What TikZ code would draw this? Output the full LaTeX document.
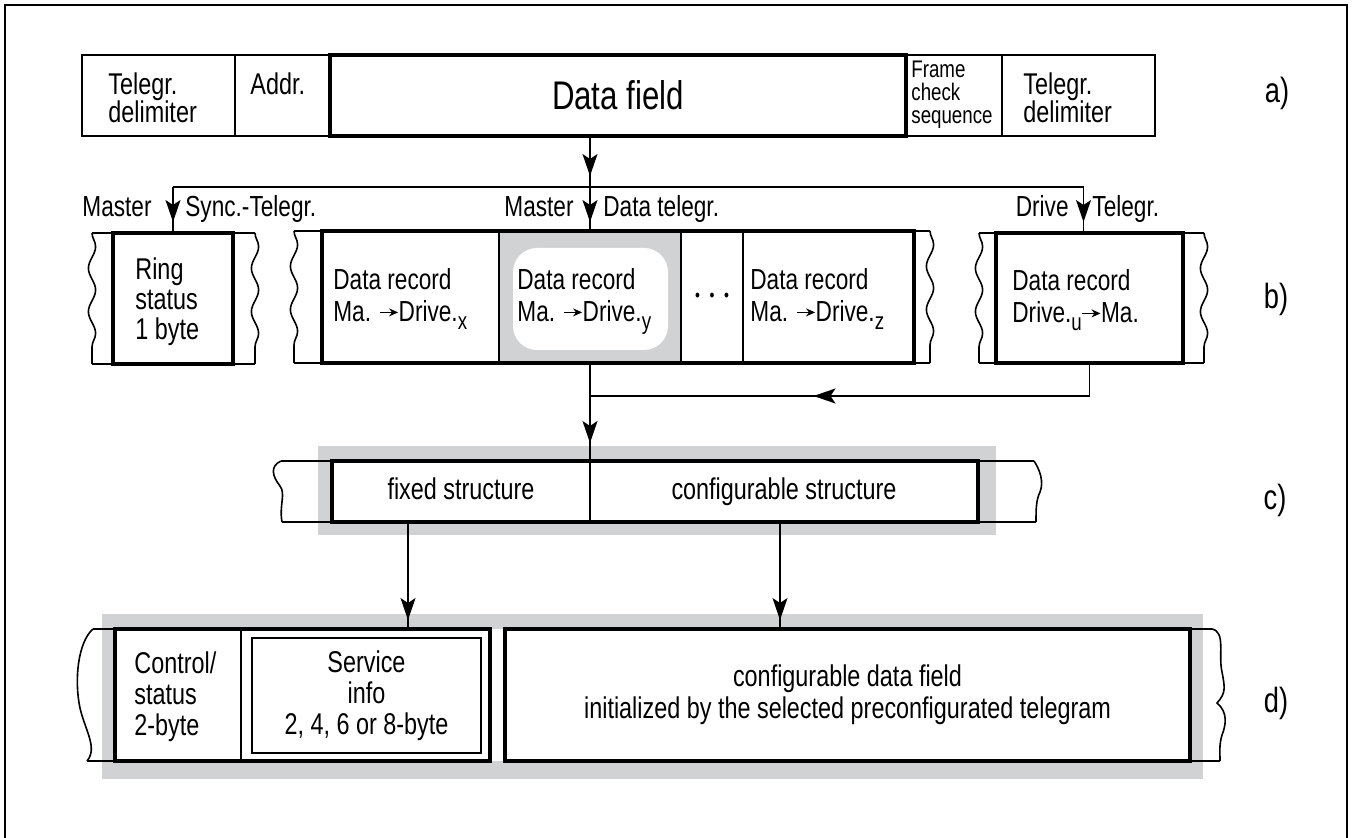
\documentclass[tikz,border=0pt]{standalone}
\usepackage{fontspec}
\setmainfont{Liberation Sans}[FakeStretch=0.78]
\usetikzlibrary{arrows.meta, positioning, decorations.pathmorphing}

\definecolor{panelgray}{RGB}{209,210,212}
\newcommand{\lowidx}[1]{\raisebox{-4pt}{\fontsize{12}{12}\selectfont #1}}
\newcommand{\toarrow}{\tikz[baseline=-4.5pt]\draw[line width=0.6pt,-{Stealth[length=4.5pt,width=4pt]}] (0,0) -- (9pt,0);}

\begin{document}
\begin{tikzpicture}[x=0.5pt, y=-0.5pt, font=\fontsize{15}{15.5}\selectfont,
  thinbox/.style={draw, line width=0.8pt, inner sep=0pt, outer sep=0pt},
  thickbox/.style={draw, line width=1.7pt, inner sep=0pt, outer sep=0pt},
  txt/.style={inner sep=0pt, anchor=north west, align=left},
  lbl/.style={inner sep=0pt, font=\fontsize{17.5}{18}\selectfont},
  tel/.style={inner sep=0pt, font=\fontsize{14.5}{14.5}\selectfont},
  arr/.style={line width=0.8pt, -{Stealth[length=11pt,width=7.5pt,inset=2.5pt]}},
  brk/.style={line width=0.8pt},
  wave/.style={brk, decorate, decoration={snake, amplitude=1.8pt, segment length=21.7pt}}]
\useasboundingbox (0,0) rectangle (1353,838);
\draw[line width=0.9pt] (5,838) -- (5,5) -- (1347,5) -- (1347,838);

% a) telegram frame
\node[thinbox, minimum width=76.5pt, minimum height=40.5pt] (delimA) at (158.5,95.5) {};
\node[thinbox, minimum width=47.5pt, minimum height=40.5pt] (addr) at (282.5,95.5) {};
\node[thinbox, minimum width=48pt, minimum height=40.5pt] (fcs) at (954,95.5) {};
\node[thinbox, minimum width=76.5pt, minimum height=40.5pt] (delimB) at (1078.5,95.5) {};
\node[thickbox, minimum width=288pt, minimum height=40.5pt, font=\fontsize{20}{20}\selectfont] (field) at (618,95.5) {Data field};
\node[txt, font=\fontsize{15}{14}\selectfont] (tdelimA) at (108,72) {Telegr.\\delimiter};
\node[txt] (taddr) at (250,72) {Addr.};
\node[txt, font=\fontsize{12}{11.5}\selectfont] (tfcs) at (911,61) {Frame\\check\\sequence};
\node[txt, font=\fontsize{15}{14}\selectfont] (tdelimB) at (1023,72) {Telegr.\\delimiter};
\node[lbl] (la) at (1277,93) {a)};

% b) telegram types
\coordinate (bus) at (590,187);
\node[thickbox, minimum width=60pt, minimum height=65.5pt] (ring) at (173,298.5) {};
\node[thinbox, minimum width=88.5pt, minimum height=66pt] (xrec) at (410.5,297) {};
\node[thinbox, fill=panelgray, minimum width=91pt, minimum height=66pt] (yrec) at (590,297) {};
\node[thinbox, minimum width=31pt, minimum height=66pt] (dots) at (712,297) {};
\node[thinbox, minimum width=85.5pt, minimum height=66pt] (zrec) at (828.5,297) {};
\draw[line width=1.7pt] (xrec.north west) rectangle (zrec.south east);
\node[fill=white, rounded corners=12pt, minimum width=77.5pt, minimum height=51pt, inner sep=0pt] (yhole) at (590.5,299) {};
\node[thickbox, minimum width=93.5pt, minimum height=65pt] (drive) at (1089.5,298) {};
\coordinate (dtop) at ([xshift=-3pt]drive.north);

\node[txt, font=\fontsize{15}{15}\selectfont] (tring) at (135,257) {Ring\\status\\1 byte};
\node[txt, font=\fontsize{14.5}{16}\selectfont] (txrec) at (333,268) {Data record\\Ma. \toarrow Drive.\lowidx{x}};
\node[txt, font=\fontsize{14.5}{16}\selectfont] (tyrec) at (517,268) {Data record\\Ma. \toarrow Drive.\lowidx{y}};
\node[txt, font=\fontsize{14.5}{16}\selectfont] (tzrec) at (750,268) {Data record\\Ma. \toarrow Drive.\lowidx{z}};
\node[txt, font=\fontsize{14.5}{16}\selectfont] (tdrive) at (1012,269) {Data record\\Drive.\lowidx{u}\toarrow Ma.};
\node[inner sep=0pt, font=\fontsize{9}{9}\selectfont] (tdots) at (dots) {\textbullet\hspace{4.8pt}\textbullet\hspace{4.8pt}\textbullet};

% break marks
\draw[brk] (92,233) -- (255,233) (92,364) -- (255,364);
\draw[wave] (92,233) -- (92,364);
\draw[wave] (255,233) -- (255,364);
\draw[brk] (294,231) -- (xrec.north west) (294,363) -- (xrec.south west);
\draw[brk] (zrec.north east) -- (930,231) (zrec.south east) -- (930,363);
\draw[wave] (294,231) -- (294,363);
\draw[wave] (930,231) -- (930,363);
\draw[brk] (979,233) -- (1204,233) (979,363) -- (1204,363);
\draw[wave] (979,233) -- (979,363);
\draw[wave] (1204,233) -- (1204,363);

% distribution to b)
\draw[brk] (ring.north |- bus) -- (dtop |- bus);
\draw[brk] (field.south -| yrec.north) -- (yrec.north);
\draw[arr] (field.south -| yrec.north) -- ++(0,40);
\draw[brk] (ring.north |- bus) -- (ring.north);
\draw[arr] (ring.north |- bus) -- ++(0,35);
\draw[arr] (bus) -- ++(0,35);
\draw[brk] (dtop |- bus) -- (dtop);
\draw[arr] (dtop |- bus) -- ++(0,35);
\node[tel, anchor=base east] (mSync) at (152,217) {Master};
\node[tel, anchor=base west] (sync) at (185,217) {Sync.-Telegr.};
\node[tel, anchor=base east] (mData) at (574,217) {Master};
\node[tel, anchor=base west] (dtel) at (603,217) {Data telegr.};
\node[tel, anchor=base east] (drv) at (1069,217) {Drive};
\node[tel, anchor=base west] (dtg) at (1092,217) {Telegr.};
\node[lbl] (lb) at (1276,299) {b)};

% c) data record
\fill[panelgray] (318,446) rectangle (996,535);
\node[thinbox, fill=white, minimum width=129pt, minimum height=30.5pt, text height=10.8pt, text depth=3pt] (fixed) at (461,491.5) {fixed structure};
\node[thinbox, fill=white, minimum width=194pt, minimum height=30.5pt, text height=10.8pt, text depth=3pt] (conf) at (784,491.5) {configurable structure};
\draw[line width=1.7pt] (fixed.north west) rectangle (conf.south east);
\draw[brk] (281,461) -- (fixed.north west) (282,522) -- (fixed.south west);
\draw[brk] (281,461) .. controls (270,466) and (272,476) .. (280,486) .. controls (286,494) and (279,505) .. (282,522);
\draw[brk] (conf.north east) -- (1034,461) (conf.south east) -- (1036,522);
\draw[brk] (1034,461) .. controls (1040,470) and (1044,482) .. (1040,492) .. controls (1036,500) and (1036,510) .. (1036,522);
\node[lbl] (lc) at (1275,500) {c)};

\coordinate (join) at (590,396);
\draw[brk] (yrec.south) -- (yrec.south |- fixed.north);
\draw[arr] (yrec.south) -- ++(0,80);
\draw[brk] (drive.south) |- (join);
\draw[arr] (drive.south |- join) -- ++(-276,0);

% d) record contents
\fill[panelgray] (102,614) rectangle (1203,779);
\fill[white] (115,629) rectangle (1190,761);
\node[thinbox, minimum width=63pt, minimum height=66pt] (ctrl) at (178,695) {};
\node[thinbox, minimum width=124.5pt, minimum height=66pt] (svc) at (365.5,695) {};
\draw[line width=1.7pt] (ctrl.north west) rectangle (svc.south east);
\node[thinbox, minimum width=114.5pt, minimum height=57.5pt, align=center] (svcin) at (366.5,695.5) {Service\\info\\2, 4, 6 or 8-byte};
\node[txt] (tctrl) at (134,651) {Control/\\status\\2-byte};
\node[thickbox, minimum width=342.5pt, minimum height=66pt, align=center, font=\fontsize{15}{16}\selectfont] (dright) at (847.5,695) {configurable data field\\initialized by the selected preconfigurated telegram};
\draw[brk] (93,629) -- (ctrl.north west) (87,761) -- (ctrl.south west);
\draw[brk] (93,629) .. controls (78,642) and (74,680) .. (80,708) .. controls (85,730) and (98,748) .. (87,761);
\draw[brk] (dright.north east) -- (1212,629) (dright.south east) -- (1220,761);
\draw[brk] (1212,629) .. controls (1226,632) and (1218,655) .. (1222,672) .. controls (1225,688) and (1226,693) .. (1217,703) .. controls (1228,712) and (1226,725) .. (1222,735) .. controls (1219,745) and (1220,752) .. (1220,761);
\node[lbl] (ld) at (1276,703) {d)};

\draw[brk] ([xshift=-26.5pt]fixed.south) -- ([xshift=-26.5pt]fixed.south |- svc.north);
\draw[arr, shorten >=4.5pt] ([xshift=-26.5pt]fixed.south) -- ([xshift=-26.5pt]fixed.south |- svc.north);
\draw[brk] ([xshift=-2pt]conf.south) -- ([xshift=-2pt]conf.south |- dright.north);
\draw[arr, shorten >=4.5pt] ([xshift=-2pt]conf.south) -- ([xshift=-2pt]conf.south |- dright.north);
\end{tikzpicture}
\end{document}
